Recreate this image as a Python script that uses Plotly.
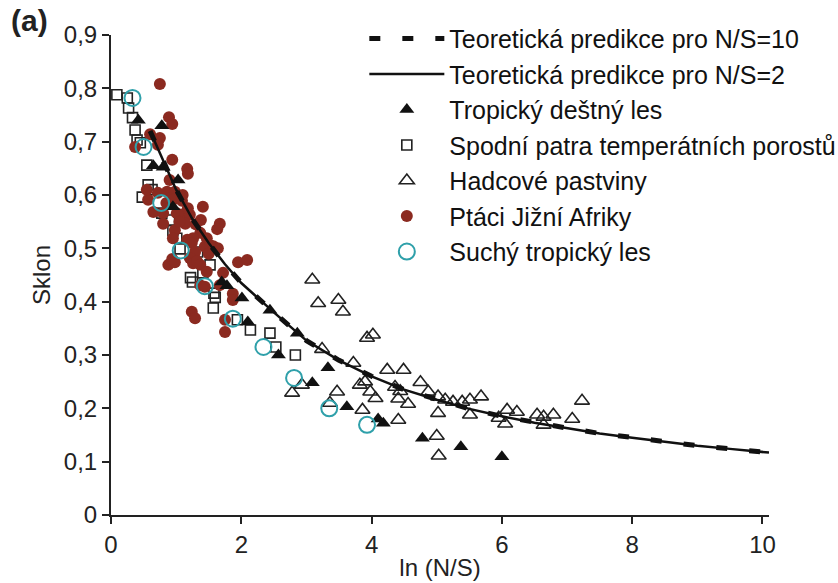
import plotly.graph_objects as go

# ---- theoretical curves ----
curve_x = [0.6, 0.8, 1.0, 1.25, 1.5, 1.75, 2.0, 2.5, 3.0, 3.5, 4.0, 4.5, 5.0, 5.5,
           6.0, 6.5, 7.0, 7.5, 8.0, 8.5, 9.0, 9.5, 10.0, 10.1]
curve_y = [0.72, 0.665, 0.61, 0.555, 0.51, 0.47, 0.435, 0.38, 0.327, 0.29, 0.26, 0.235,
           0.216, 0.199, 0.185, 0.173, 0.163, 0.153, 0.145, 0.137, 0.13, 0.124, 0.118, 0.117]

# ---- Tropický deštný les (filled triangles) ----
trop_x = [0.42, 0.78, 0.65, 0.8, 1.03, 0.95, 1.7, 1.78, 2.01, 2.1, 2.44, 2.86, 2.57,
          3.33, 3.09, 3.62, 4.18, 4.1, 4.78, 5.37, 6.0]
trop_y = [0.74, 0.73, 0.655, 0.652, 0.628, 0.578, 0.437, 0.43, 0.407, 0.362, 0.384, 0.341,
          0.30, 0.276, 0.248, 0.203, 0.172, 0.18, 0.144, 0.128, 0.109]

# ---- Spodní patra temperátních porostů (open squares) ----
temp_x = [0.09, 0.25, 0.27, 0.33, 0.37, 0.4, 0.45, 0.55, 0.57, 0.63, 0.48, 0.78, 0.9,
          0.95, 1.01, 1.06, 1.33, 1.52, 1.41, 1.22, 1.25, 1.58, 1.6, 1.57, 1.94, 2.14,
          2.44, 2.53, 2.83]
temp_y = [0.788, 0.782, 0.763, 0.745, 0.722, 0.703, 0.698, 0.656, 0.619, 0.61, 0.596,
          0.566, 0.553, 0.533, 0.519, 0.499, 0.493, 0.469, 0.454, 0.445, 0.437, 0.416,
          0.408, 0.388, 0.366, 0.347, 0.341, 0.315, 0.30]

# ---- Hadcové pastviny (open triangles) ----
hadc_x = [3.09, 3.18, 3.49, 3.56, 3.93, 4.02, 3.24, 3.72, 4.24, 4.49, 4.75, 3.82, 3.9,
          3.98, 4.36, 4.44, 4.41, 4.56, 4.06, 3.47, 2.78, 2.93, 3.36, 3.86, 4.41, 4.87,
          5.02, 5.13, 5.25, 5.39, 5.51, 5.68, 5.02, 5.51, 6.08, 6.23, 5.95, 6.05, 6.54,
          6.64, 6.79, 6.64, 7.08, 7.23, 5.0, 5.03]
hadc_y = [0.441, 0.397, 0.403, 0.381, 0.332, 0.338, 0.311, 0.285, 0.272, 0.272, 0.249,
          0.244, 0.25, 0.231, 0.24, 0.232, 0.218, 0.208, 0.219, 0.231, 0.229, 0.244,
          0.21, 0.197, 0.178, 0.231, 0.222, 0.216, 0.212, 0.212, 0.216, 0.222, 0.191,
          0.188, 0.197, 0.193, 0.182, 0.171, 0.188, 0.184, 0.188, 0.169, 0.18, 0.214,
          0.148, 0.111]

# ---- Ptáci Jižní Afriky (filled red circles) ----
birds_x = [0.75, 0.89, 0.94, 0.6, 0.75, 0.37, 0.72, 0.94, 1.17, 1.18, 0.9, 0.72, 0.86,
           0.98, 0.57, 0.95, 1.09, 0.65, 0.8, 1.01, 1.14, 1.21, 1.18, 1.41, 1.38, 1.67,
           1.63, 1.14, 0.8, 0.98, 1.37, 1.26, 1.47, 0.95, 1.17, 1.24, 1.44, 1.57, 1.64,
           1.52, 1.29, 0.88, 0.94, 0.98, 1.21, 1.26, 1.32, 1.37, 1.95, 2.09, 1.47, 1.72,
           1.37, 1.67, 1.44, 1.87, 1.87, 1.24, 1.29, 1.75, 1.75, 1.1, 1.05, 1.3, 0.55,
           0.85, 1.5]
birds_y = [0.808, 0.746, 0.733, 0.714, 0.707, 0.69, 0.694, 0.666, 0.649, 0.64, 0.628,
           0.604, 0.606, 0.606, 0.591, 0.591, 0.589, 0.568, 0.566, 0.566, 0.566, 0.563,
           0.575, 0.578, 0.553, 0.546, 0.536, 0.546, 0.546, 0.534, 0.529, 0.519, 0.519,
           0.519, 0.516, 0.51, 0.503, 0.504, 0.5, 0.506, 0.493, 0.469, 0.48, 0.474,
           0.482, 0.472, 0.476, 0.469, 0.474, 0.478, 0.456, 0.454, 0.431, 0.431, 0.428,
           0.415, 0.403, 0.381, 0.369, 0.366, 0.343, 0.6, 0.55, 0.545, 0.61, 0.585, 0.49]

# ---- Suchý tropický les (open teal circles) ----
dry_x = [0.33, 0.5, 0.77, 1.07, 1.44, 1.87, 2.34, 2.81, 3.35, 3.93]
dry_y = [0.782, 0.69, 0.585, 0.496, 0.429, 0.368, 0.315, 0.257, 0.2, 0.169]

# ---- axis ticks ----
x_ticks = [0, 2, 4, 6, 8, 10]
x_labels = ["0", "2", "4", "6", "8", "10"]
y_ticks = [0, 0.1, 0.2, 0.3, 0.4, 0.5, 0.6, 0.7, 0.8, 0.9]
y_labels = ["0", "0,1", "0,2", "0,3", "0,4", "0,5", "0,6", "0,7", "0,8", "0,9"]

FONT = "Liberation Sans, Arial, sans-serif"
RED = "#8B2A20"
TEAL = "#2FA0AA"

fig = go.Figure()

fig.add_trace(go.Scatter(
    x=temp_x, y=temp_y, mode="markers", name="Spodní patra temperátních porostů",
    marker=dict(symbol="square-open", size=10, color="#222", line=dict(width=1.6)),
    legendrank=4, legendgroup="g4", cliponaxis=False))
fig.add_trace(go.Scatter(
    x=birds_x, y=birds_y, mode="markers", name="Ptáci Jižní Afriky",
    marker=dict(symbol="circle", size=12, color=RED),
    legendrank=6, legendgroup="g6", cliponaxis=False))
fig.add_trace(go.Scatter(
    x=hadc_x, y=hadc_y, mode="markers", name="Hadcové pastviny",
    marker=dict(symbol="triangle-up-open", size=13, color="#222", line=dict(width=1.6)),
    legendrank=5, legendgroup="g5", cliponaxis=False))
fig.add_trace(go.Scatter(
    x=trop_x, y=trop_y, mode="markers", name="Tropický deštný les",
    marker=dict(symbol="triangle-up", size=13, color="#111"),
    legendrank=3, legendgroup="g3", cliponaxis=False))
fig.add_trace(go.Scatter(
    x=dry_x, y=dry_y, mode="markers", name="Suchý tropický les",
    marker=dict(symbol="circle-open", size=16, color=TEAL, line=dict(width=2)),
    legendrank=7, legendgroup="g7", cliponaxis=False))
fig.add_trace(go.Scatter(
    x=curve_x, y=curve_y, mode="lines", name="Teoretická predikce pro N/S=2",
    line=dict(color="#111", width=2.5), legendrank=2, legendgroup="g2"))
fig.add_trace(go.Scatter(
    x=curve_x, y=curve_y, mode="lines", name="Teoretická predikce pro N/S=10",
    line=dict(color="#111", width=5, dash="11px,22px"), legendrank=1, legendgroup="g1"))

fig.add_annotation(text="<b>(a)</b>", xref="paper", yref="paper", x=-0.155, y=1.068,
                   xanchor="left", yanchor="top", showarrow=False,
                   font=dict(family=FONT, size=30, color="#222"))

axis_common = dict(showline=True, linecolor="#222", linewidth=2, ticks="outside",
                   ticklen=7, tickwidth=2, tickcolor="#222", showgrid=False,
                   zeroline=False, tickfont=dict(family=FONT, size=24, color="#222"))

fig.update_layout(
    width=838, height=583,
    margin=dict(l=111, r=69, t=35, b=68, autoexpand=False),
    plot_bgcolor="white", paper_bgcolor="white",
    font=dict(family=FONT, color="#222"),
    xaxis=dict(range=[0, 10.1], tickvals=x_ticks, ticktext=x_labels,
               title=dict(text="ln (N/S)", font=dict(family=FONT, size=24, color="#222"),
                          standoff=2),
               **axis_common),
    yaxis=dict(range=[0, 0.9], tickvals=y_ticks, ticktext=y_labels,
               title=dict(text="Sklon", font=dict(family=FONT, size=24, color="#222"),
                          standoff=6),
               **axis_common),
    legend=dict(x=0.385, y=1.04, xanchor="left", yanchor="top",
                font=dict(family=FONT, size=25, color="#111"),
                bgcolor="rgba(0,0,0,0)", itemwidth=75, tracegroupgap=0,
                traceorder="grouped"),
    showlegend=True,
)

fig.write_html("out.html")
